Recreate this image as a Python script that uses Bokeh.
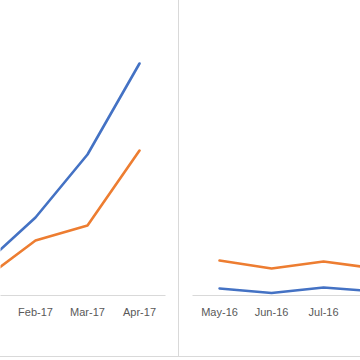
from bokeh.plotting import figure
from bokeh.models import Range1d, FixedTicker, Div
from bokeh.layouts import row, column
from bokeh.embed import file_html
from bokeh.resources import INLINE

# Left chart (2017)
left_months = ["Jan-17", "Feb-17", "Mar-17", "Apr-17"]
left_blue = [30.5, 78, 141, 232]
left_orange = [16, 55, 70, 145]

# Right chart (2016)
right_months = ["May-16", "Jun-16", "Jul-16", "Aug-16"]
right_blue = [7, 2.5, 8, 4]
right_orange = [35, 27, 34, 27]

BLUE = "#4472C4"
ORANGE = "#ED7D31"
GRID = "#D9D9D9"
LABEL = "#595959"


def make_fig(months, blue, orange, w, xr, bl, br):
    idx = list(range(len(months)))
    p = figure(width=w, height=356, output_backend="svg", toolbar_location=None,
               x_range=Range1d(*xr), y_range=Range1d(0, 295),
               min_border_left=bl, min_border_right=br, min_border_top=0,
               min_border_bottom=61)
    p.line(idx, blue, line_color=BLUE, line_width=2.6, line_join="round", line_cap="round")
    p.line(idx, orange, line_color=ORANGE, line_width=2.6, line_join="round", line_cap="round")
    p.yaxis.visible = False
    p.xgrid.visible = False
    p.ygrid.visible = False
    p.outline_line_color = None
    ax = p.xaxis[0]
    ax.ticker = FixedTicker(ticks=idx)
    ax.major_label_overrides = {i: m for i, m in zip(idx, months)}
    ax.axis_line_color = GRID
    ax.axis_line_width = 1
    ax.major_tick_line_color = None
    ax.minor_tick_line_color = None
    ax.major_tick_out = 0
    ax.major_tick_in = 0
    ax.major_label_standoff = 10
    ax.major_label_text_font = "Liberation Sans"
    ax.major_label_text_font_size = "11px"
    ax.major_label_text_color = LABEL
    return p


left = make_fig(left_months, left_blue, left_orange, 178, (0.327, 3.5), 0, 13)
right = make_fig(right_months, right_blue, right_orange, 181, (-0.52, 2.71), 13, 0)

sep = Div(text="", width=1, height=356, margin=0,
          styles={"background-color": GRID})
bottom = Div(text="", width=360, height=1, margin=0,
             styles={"background-color": GRID})

layout = column(row(left, sep, right, spacing=0), bottom, spacing=0)

open("out.html", "w").write(file_html(layout, INLINE))
